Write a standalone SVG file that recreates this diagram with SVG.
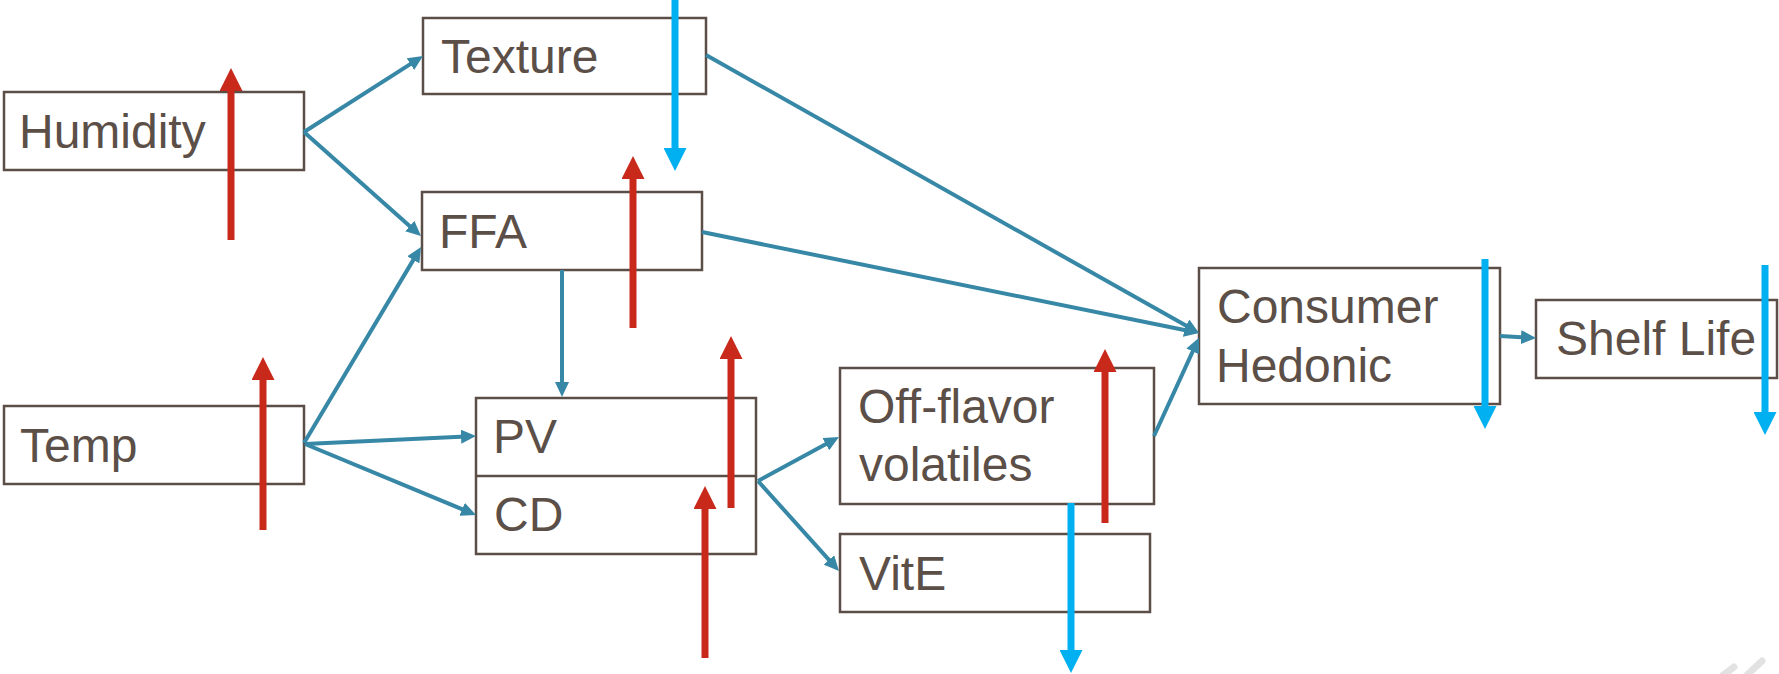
<svg xmlns="http://www.w3.org/2000/svg" width="1779" height="674" viewBox="0 0 1779 674">
<style>
.box{fill:#ffffff;stroke:#5a4e47;stroke-width:2.5}
.lbl{font-family:"Liberation Sans",Arial,sans-serif;font-size:48px;fill:#5b4f48}
.con{stroke:#3787a6;stroke-width:4;fill:none;marker-end:url(#tealHead)}
.up{stroke:#c9291b;stroke-width:7;fill:none;marker-end:url(#redHead)}
.down{stroke:#00b0f0;stroke-width:7;fill:none;marker-end:url(#blueHead)}
</style>
<defs>
<marker id="tealHead" markerUnits="userSpaceOnUse" viewBox="0 0 15 14" markerWidth="15" markerHeight="14" refX="5" refY="7" orient="auto"><path d="M0,0 L15,7 L0,14 z" fill="#3787a6"/></marker>
<marker id="redHead" markerUnits="userSpaceOnUse" viewBox="0 0 23 23" markerWidth="23" markerHeight="23" refX="8" refY="11.5" orient="auto"><path d="M0,0 L23,11.5 L0,23 z" fill="#c9291b"/></marker>
<marker id="blueHead" markerUnits="userSpaceOnUse" viewBox="0 0 23 23" markerWidth="23" markerHeight="23" refX="8" refY="11.5" orient="auto"><path d="M0,0 L23,11.5 L0,23 z" fill="#00b0f0"/></marker>
</defs>
<rect width="1779" height="674" fill="#ffffff"/>

<g id="humidity"><rect class="box" x="4" y="92" width="300" height="78"/><text class="lbl" x="19" y="148">Humidity</text></g>
<g id="texture"><rect class="box" x="423" y="18" width="283" height="76"/><text class="lbl" x="441" y="73">Texture</text></g>
<g id="ffa"><rect class="box" x="422" y="192" width="280" height="78"/><text class="lbl" x="439" y="248">FFA</text></g>
<g id="temp"><rect class="box" x="4" y="406" width="300" height="78"/><text class="lbl" x="20" y="462">Temp</text></g>
<g id="pvcd"><rect class="box" x="476" y="398" width="280" height="156"/><line x1="476" y1="476" x2="756" y2="476" stroke="#5a4e47" stroke-width="2.5"/><text class="lbl" x="493" y="453">PV</text><text class="lbl" x="494" y="531">CD</text></g>
<g id="offflavor"><rect class="box" x="840" y="368" width="314" height="136"/><text class="lbl" x="858" y="423">Off-flavor</text><text class="lbl" x="859" y="481">volatiles</text></g>
<g id="vite"><rect class="box" x="840" y="534" width="310" height="78"/><text class="lbl" x="859" y="590">VitE</text></g>
<g id="consumer"><rect class="box" x="1199" y="268" width="301" height="136"/><text class="lbl" x="1217" y="323">Consumer</text><text class="lbl" x="1216" y="382">Hedonic</text></g>
<g id="shelflife"><rect class="box" x="1536" y="300" width="241" height="78"/><text class="lbl" x="1556" y="355">Shelf Life</text></g>

<g id="connectors">
<line class="con" x1="304" y1="132" x2="414.6" y2="61.4"/>
<line class="con" x1="304" y1="132" x2="413.5" y2="229.4"/>
<line class="con" x1="304" y1="443" x2="415.9" y2="255.6"/>
<line class="con" x1="305" y1="444" x2="466" y2="436.5"/>
<line class="con" x1="305" y1="444" x2="466.8" y2="511.2"/>
<line class="con" x1="562" y1="270" x2="562" y2="387"/>
<line class="con" x1="758" y1="481" x2="830.2" y2="441.8"/>
<line class="con" x1="758" y1="481" x2="832.3" y2="563.6"/>
<line class="con" x1="706" y1="55" x2="1190.3" y2="328.1"/>
<line class="con" x1="702" y1="232" x2="1189.2" y2="331"/>
<line class="con" x1="1154" y1="436" x2="1194.8" y2="346.9"/>
<line class="con" x1="1500" y1="336" x2="1526" y2="337.4"/>
</g>

<g id="trend-arrows">
<line class="up" x1="231" y1="240" x2="231" y2="83"/>
<line class="up" x1="633" y1="328" x2="633" y2="171"/>
<line class="up" x1="263" y1="530" x2="263" y2="372"/>
<line class="up" x1="731" y1="508" x2="731" y2="351"/>
<line class="up" x1="705" y1="658" x2="705" y2="501"/>
<line class="up" x1="1105" y1="523" x2="1105" y2="364"/>
<line class="down" x1="675" y1="0" x2="675" y2="156"/>
<line class="down" x1="1071" y1="503" x2="1071" y2="658"/>
<line class="down" x1="1485" y1="259" x2="1485" y2="414"/>
<line class="down" x1="1765" y1="265" x2="1765" y2="420"/>
</g>

<g id="watermark" stroke="#dcdcdc" stroke-width="7" stroke-linecap="round" opacity="0.8">
<line x1="1722" y1="676" x2="1734" y2="667"/>
<line x1="1746" y1="676" x2="1762" y2="661"/>
</g>
</svg>
